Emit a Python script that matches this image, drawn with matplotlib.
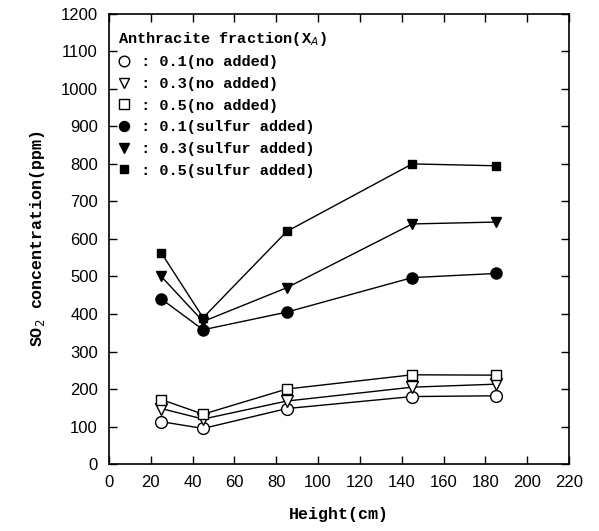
import numpy as np
import matplotlib.pyplot as plt
from matplotlib.lines import Line2D

# Altura (cm) e concentracao de SO2 (ppm)
altura = [25, 45, 85, 145, 185]

so2_01_no = [113, 95, 148, 180, 182]
so2_03_no = [148, 120, 168, 205, 213]
so2_05_no = [172, 133, 200, 238, 237]
so2_01_s = [440, 358, 405, 497, 508]
so2_03_s = [500, 380, 470, 640, 645]
so2_05_s = [563, 390, 620, 800, 795]

rotulos = [' : 0.1(no added)', ' : 0.3(no added)', ' : 0.5(no added)',
           ' : 0.1(sulfur added)', ' : 0.3(sulfur added)', ' : 0.5(sulfur added)']

mono = 'Liberation Mono'
sans = 'Liberation Sans'

fig = plt.figure(figsize=(5.99, 5.31), dpi=100)
ax = fig.add_axes([0.182, 0.126, 0.768, 0.848])

series = [
    (so2_01_no, 'o', 'white', 8.5),
    (so2_03_no, 'v', 'white', 8.5),
    (so2_05_no, 's', 'white', 7.5),
    (so2_01_s, 'o', 'black', 8),
    (so2_03_s, 'v', 'black', 7.5),
    (so2_05_s, 's', 'black', 6),
]

handles = []
for (y, m, fc, ms), lab in zip(series, rotulos):
    ax.plot(altura, y, color='black', lw=1.0, marker=m, markersize=ms,
            markerfacecolor=fc, markeredgecolor='black', markeredgewidth=1.0, zorder=3)
    handles.append(Line2D([], [], ls='none', marker=m, markersize=ms * 0.9,
                          markerfacecolor=fc, markeredgecolor='black', markeredgewidth=1.0))

ax.set_xlim(0, 220)
ax.set_ylim(0, 1200)
ax.set_xticks(np.arange(0, 221, 20))
ax.set_yticks(np.arange(0, 1201, 100))
ax.tick_params(direction='in', top=True, right=True, length=6, width=1,
               labelsize=12, pad=8)
for t in ax.get_xticklabels() + ax.get_yticklabels():
    t.set_fontfamily(sans)
for s in ax.spines.values():
    s.set_linewidth(1.2)

ax.set_xlabel('Height(cm)', fontfamily=mono, fontweight='bold', fontsize=12, labelpad=12)
ax.set_ylabel('SO$_2$ concentration(ppm)', fontfamily=mono, fontweight='bold',
              fontsize=12, labelpad=10)

leg = ax.legend(handles, rotulos, loc='upper left', bbox_to_anchor=(0.0, 0.985),
                title='Anthracite fraction(X$_A$)', frameon=False,
                prop={'family': mono, 'weight': 'bold', 'size': 11},
                handlelength=0.8, handletextpad=0.1, labelspacing=0.5,
                borderaxespad=0.2, alignment='left')
leg.get_title().set_fontfamily(mono)
leg.get_title().set_fontweight('bold')
leg.get_title().set_fontsize(11)

plt.savefig('out.png', dpi=100)
